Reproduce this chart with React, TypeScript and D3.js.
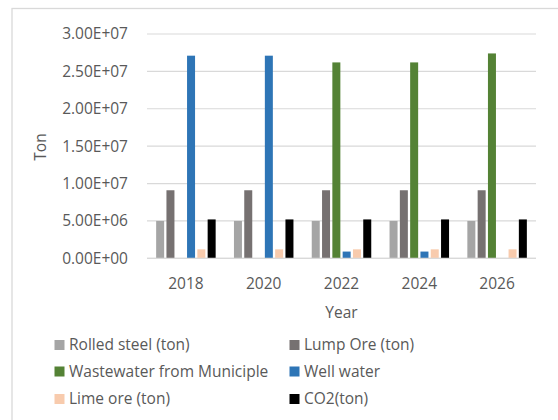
import React from "react";
import * as d3 from "d3";

const years = ["2018", "2020", "2022", "2024", "2026"];
const seriesNames = [
  "Rolled steel (ton)",
  "Lump Ore (ton)",
  "Wastewater from Municiple",
  "Well water",
  "Lime ore (ton)",
  "CO2(ton)",
];
const rolledSteel = [5.0e6, 5.0e6, 5.0e6, 5.0e6, 5.0e6];
const lumpOre = [9.1e6, 9.1e6, 9.1e6, 9.1e6, 9.1e6];
const wastewater = [0, 0, 2.62e7, 2.62e7, 2.74e7];
const wellWater = [2.71e7, 2.71e7, 0.9e6, 0.9e6, 0];
const limeOre = [1.2e6, 1.2e6, 1.2e6, 1.2e6, 1.2e6];
const co2 = [5.2e6, 5.2e6, 5.2e6, 5.2e6, 5.2e6];
const yTicks = [0, 5e6, 1e7, 1.5e7, 2e7, 2.5e7, 3e7];
const yTickLabels = ["0.00E+00", "5.00E+06", "1.00E+07", "1.50E+07", "2.00E+07", "2.50E+07", "3.00E+07"];

const colors = ["#A5A5A5", "#767171", "#548235", "#2E75B6", "#F8CBAD", "#000000"];
const allSeries = [rolledSteel, lumpOre, wastewater, wellWater, limeOre, co2];

export default function App() {
  const W = 558, H = 420;
  const left = 147, right = 536, top = 34, bottom = 258.3;
  const x = d3.scaleBand<string>().domain(years).range([left, right]).paddingInner(0).paddingOuter(0);
  const y = d3.scaleLinear().domain([0, 3e7]).range([bottom, top]);
  const slot = 10.3;
  const barW = 8;
  const groupW = slot * seriesNames.length;
  const font = "'Open Sans', sans-serif";
  const textColor = "#595959";
  const fs = 15.5;

  return (
    <svg width={W} height={H} style={{ position: "absolute", left: 0, top: 0, background: "#fff" }} fontFamily={font}>
      <rect x={12} y={8.5} width={W + 10} height={H + 10} fill="#fff" stroke="#D9D9D9" strokeWidth={1.3} />
      {yTicks.map((t, i) => (
        <g key={t}>
          <line x1={left} x2={right} y1={y(t)} y2={y(t)} stroke="#D9D9D9" strokeWidth={1.2} />
          <text x={128} y={y(t)} dy="0.35em" textAnchor="end" fontSize={fs} fill={textColor}>
            {yTickLabels[i]}
          </text>
        </g>
      ))}
      {years.map((yr, gi) => {
        const cx = (x(yr) as number) + x.bandwidth() / 2;
        const start = cx - groupW / 2;
        return (
          <g key={yr}>
            {allSeries.map((s, si) => {
              const v = s[gi];
              if (!v) return null;
              const bx = start + si * slot + (slot - barW) / 2;
              return (
                <rect key={si} x={bx} y={y(v)} width={barW} height={y(0) - y(v)} fill={colors[si]} />
              );
            })}
            <text x={cx} y={289} textAnchor="middle" fontSize={fs} fill={textColor}>
              {yr}
            </text>
          </g>
        );
      })}
      <line x1={left} x2={right} y1={y(0)} y2={y(0)} stroke="#D9D9D9" strokeWidth={1.2} />
      <text x={(left + right) / 2} y={318} textAnchor="middle" fontSize={fs} fill={textColor}>Year</text>
      <text transform={`translate(46,147) rotate(-90)`} textAnchor="middle" fontSize={fs} fill={textColor}>Ton</text>
      {seriesNames.map((n, i) => {
        const col = i % 2;
        const row = Math.floor(i / 2);
        const sx = col === 0 ? 54.5 : 289.5;
        const cy = [345, 371.5, 399][row];
        return (
          <g key={n}>
            <rect x={sx} y={cy - 5} width={10} height={10} fill={colors[i]} />
            <text x={sx + 14.5} y={cy} dy="0.35em" fontSize={fs} fill={textColor}>{n}</text>
          </g>
        );
      })}
    </svg>
  );
}
